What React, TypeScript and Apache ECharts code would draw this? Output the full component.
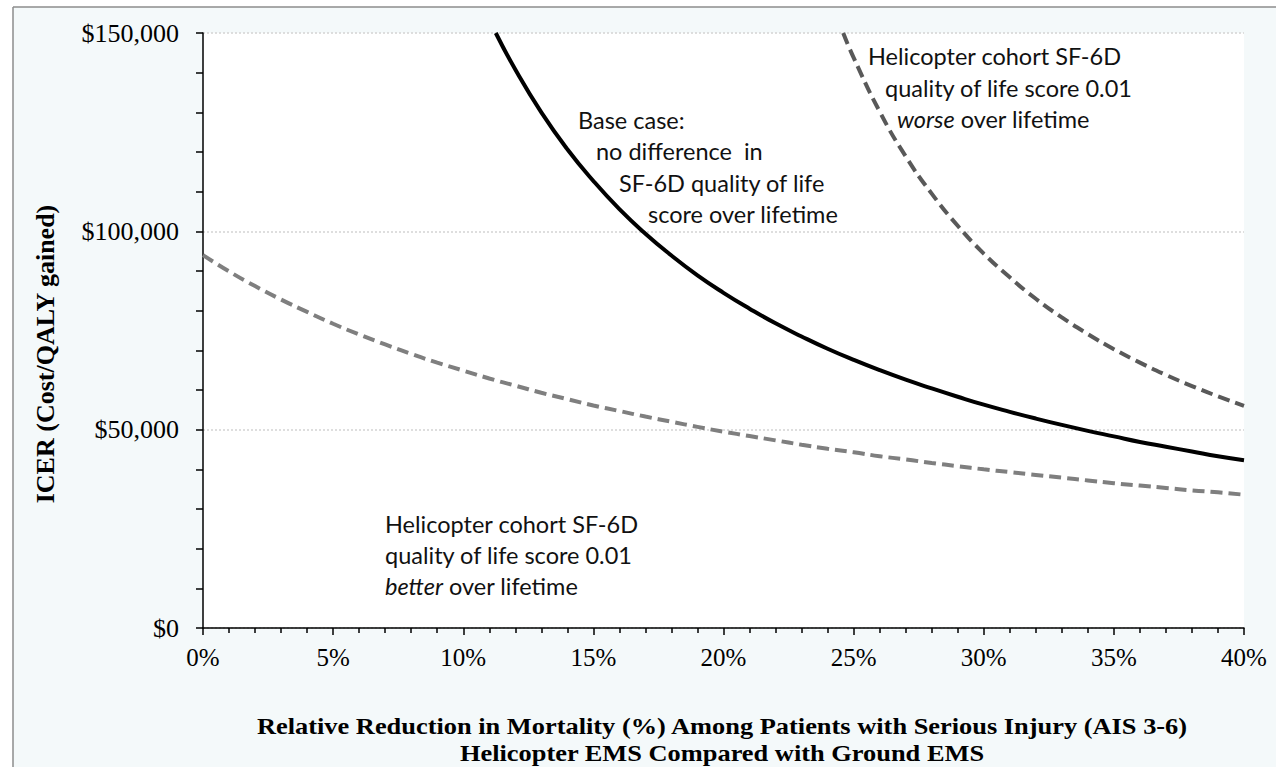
import React, { useEffect, useRef } from "react";
import * as echarts from "echarts";

// Relative reduction in mortality (%) and ICER ($/QALY)
const baseX = [11.25, 12, 13, 14, 15, 16, 17, 18, 19, 20, 21, 22, 23, 24, 25, 26, 27, 28, 29, 30, 31, 32, 33, 34, 35, 36, 37, 38, 39, 40];
const baseIcer = [150000, 140800, 130000, 120700, 112700, 105600, 99400, 93900, 88900, 84500, 80500, 76800, 73500, 70400, 67600, 65000, 62600, 60400, 58300, 56300, 54500, 52800, 51200, 49700, 48300, 46900, 45700, 44500, 43300, 42300];

const worseX = [24.6, 25, 26, 27, 28, 29, 30, 31, 32, 33, 34, 35, 36, 37, 38, 39, 40];
const worseIcer = [150000, 143800, 130200, 118900, 109500, 101400, 94400, 88400, 83000, 78300, 74100, 70300, 66900, 63800, 61000, 58400, 56000];

const betterX = [0, 1, 2, 3, 4, 5, 6, 7, 8, 9, 10, 11, 12, 13, 14, 15, 16, 17, 18, 19, 20, 21, 22, 23, 24, 25, 26, 27, 28, 29, 30, 31, 32, 33, 34, 35, 36, 37, 38, 39, 40];
const betterIcer = [94000, 89900, 86200, 82800, 79700, 76700, 74000, 71500, 69100, 66900, 64900, 62900, 61100, 59300, 57700, 56100, 54700, 53300, 52000, 50700, 49500, 48400, 47300, 46200, 45200, 44300, 43300, 42500, 41600, 40800, 40000, 39300, 38600, 37900, 37200, 36500, 35900, 35300, 34700, 34200, 33600];

const xTicks = { min: 0, max: 40, interval: 5 };
const yTicks = { min: 0, max: 150000, interval: 50000 };

const yTitle = "ICER (Cost/QALY gained)";
const xTitle1 = "Relative Reduction in Mortality (%) Among Patients with Serious Injury (AIS 3-6)";
const xTitle2 = "Helicopter EMS Compared with Ground EMS";

const baseLabel = ["Base case:", "no difference  in", "SF-6D quality of life", "score over lifetime"];
const worseLabel = ["Helicopter cohort SF-6D", "quality of life score 0.01", "{i|worse} over lifetime"];
const betterLabel = ["Helicopter cohort SF-6D", "quality of life score 0.01", "{i|better} over lifetime"];

const zip = (xs: number[], ys: number[]) => xs.map((x, i) => [x, ys[i]]);

const SERIF = '"Liberation Serif", "Times New Roman", serif';
const SANS = 'Lato, "Noto Sans", sans-serif';

export default function App() {
  const ref = useRef<HTMLDivElement>(null);
  useEffect(() => {
    document.body.style.margin = "0";
    if (!ref.current) return;
    const chart = echarts.init(ref.current, null, { renderer: "svg" });

    const annot = (lines: string[], xs: number[], y0: number, step: number) =>
      lines.map((t, i) => ({
        type: "text",
        x: xs[i],
        y: y0 + i * step,
        style: {
          text: t,
          font: `23.5px ${SANS}`,
          fill: "#111",
          textAlign: "left",
          textVerticalAlign: "middle",
          rich: { i: { fontStyle: "italic", fontSize: 23.5, fontFamily: SANS, fill: "#111" } },
        },
      }));

    const xTitleText = (t: string, y: number) => ({
      type: "text",
      x: 722,
      y,
      scaleX: 1.1,
      style: {
        text: t,
        font: `bold 24px ${SERIF}`,
        fill: "#000",
        textAlign: "center",
        textVerticalAlign: "middle",
      },
    });

    chart.setOption({
      animation: false,
      backgroundColor: "#f4f9fa",
      grid: {
        left: 203,
        top: 33,
        right: 32,
        bottom: 139,
        show: true,
        backgroundColor: "#ffffff",
        borderWidth: 0,
      },
      xAxis: {
        type: "value",
        min: xTicks.min,
        max: xTicks.max,
        interval: xTicks.interval,
        axisLine: { show: true, lineStyle: { color: "#000", width: 1.5 } },
        axisTick: { show: true, length: 7, lineStyle: { color: "#000", width: 1.5 } },
        minorTick: { show: true, splitNumber: 5, length: 5, lineStyle: { color: "#000", width: 1.5 } },
        splitLine: { show: false },
        axisLabel: {
          formatter: "{value}%",
          color: "#000",
          fontFamily: SERIF,
          fontSize: 25,
          margin: 17,
        },
      },
      yAxis: {
        type: "value",
        min: yTicks.min,
        max: yTicks.max,
        interval: yTicks.interval,
        axisLine: { show: true, lineStyle: { color: "#000", width: 1.5 } },
        axisTick: { show: true, length: 7, lineStyle: { color: "#000", width: 1.5 } },
        minorTick: { show: true, splitNumber: 5, length: 7, lineStyle: { color: "#000", width: 1.5 } },
        splitLine: { show: true, lineStyle: { color: "#d4d4d4", width: 1.5, type: [2, 2] } },
        axisLabel: {
          formatter: (v: number) => "$" + v.toLocaleString("en-US"),
          color: "#000",
          fontFamily: SERIF,
          fontSize: 26,
          margin: 24,
        },
      },
      series: [
        {
          type: "line",
          data: zip(betterX, betterIcer),
          showSymbol: false,
          smooth: true,
          lineStyle: { color: "#7f7f7f", width: 4, type: [12, 6] },
        },
        {
          type: "line",
          data: zip(baseX, baseIcer),
          showSymbol: false,
          smooth: true,
          lineStyle: { color: "#000", width: 4 },
        },
        {
          type: "line",
          data: zip(worseX, worseIcer),
          showSymbol: false,
          smooth: true,
          lineStyle: { color: "#595959", width: 4, type: [12, 6] },
        },
      ],
      graphic: [
        { type: "rect", shape: { x: 0, y: 0, width: 1276, height: 7 }, style: { fill: "#fff" }, silent: true },
        { type: "rect", shape: { x: 0, y: 0, width: 13, height: 767 }, style: { fill: "#fff" }, silent: true },
        { type: "line", shape: { x1: 13, y1: 7, x2: 1276, y2: 7 }, style: { stroke: "#8c8c8c", lineWidth: 1.5 }, silent: true },
        { type: "line", shape: { x1: 13, y1: 7, x2: 13, y2: 767 }, style: { stroke: "#8c8c8c", lineWidth: 1.5 }, silent: true },
        {
          type: "text",
          x: 45,
          y: 354,
          rotation: Math.PI / 2,
          style: {
            text: yTitle,
            font: `bold 26px ${SERIF}`,
            fill: "#000",
            textAlign: "center",
            textVerticalAlign: "middle",
          },
        },
        xTitleText(xTitle1, 726),
        xTitleText(xTitle2, 753),
        ...annot(baseLabel, [578, 596, 619, 648], 120, 31.3),
        ...annot(worseLabel, [868, 885, 897], 56, 31.5),
        ...annot(betterLabel, [385, 385, 385], 524, 31),
      ],
    });
    return () => chart.dispose();
  }, []);
  return <div ref={ref} style={{ width: 1276, height: 767 }} />;
}
